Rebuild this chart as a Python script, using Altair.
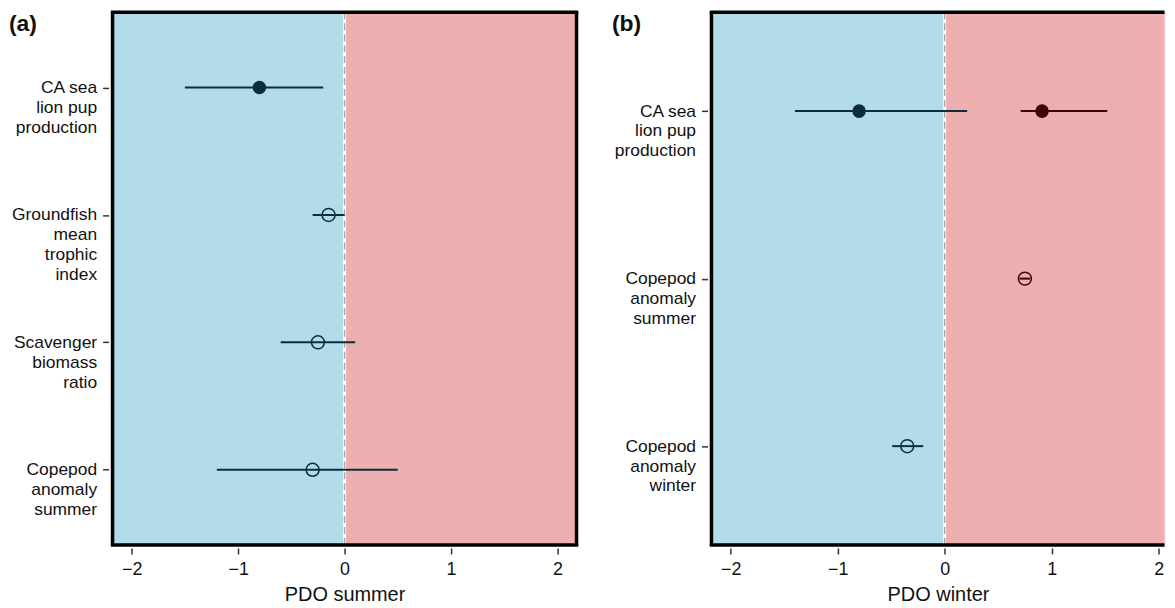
import altair as alt
import pandas as pd

# ---------------- data ----------------
cats_a = ["CA sea|lion pup|production", "Groundfish|mean|trophic|index",
          "Scavenger|biomass|ratio", "Copepod|anomaly|summer"]
rows_a = ["CA sea|lion pup|production", "Groundfish|mean|trophic|index",
          "Scavenger|biomass|ratio", "Copepod|anomaly|summer"]
est_a = [-0.80, -0.15, -0.25, -0.30]
lo_a = [-1.50, -0.30, -0.60, -1.20]
hi_a = [-0.20, 0.00, 0.10, 0.50]
filled_a = [True, False, False, False]

cats_b = ["CA sea|lion pup|production", "Copepod|anomaly|summer", "Copepod|anomaly|winter"]
rows_b = ["CA sea|lion pup|production", "CA sea|lion pup|production",
          "Copepod|anomaly|summer", "Copepod|anomaly|winter"]
est_b = [-0.80, 0.91, 0.75, -0.35]
lo_b = [-1.40, 0.71, 0.70, -0.49]
hi_b = [0.21, 1.52, 0.80, -0.20]
filled_b = [True, True, False, False]

xdom_a = [-2.18, 2.18]
xdom_b = [-2.18, 2.055]   # right part of panel (b) runs off the page edge
ticks = [-2, -1, 0, 1, 2]

BLUE_BG = "#b2dcea"
RED_BG = "#edafb0"
NEG_C = "#0b2d3c"
POS_C = "#3d0306"
FONT = "Liberation Sans"
H = 535


def panel(rows, cats, est, lo, hi, filled, xtitle, tag, tag_dx, xdom, W, right_border):
    df = pd.DataFrame({"cat": rows, "est": est, "lo": lo, "hi": hi, "filled": filled})
    df["side"] = ["pos" if v > 0 else "neg" for v in est]
    xs = alt.Scale(domain=xdom, nice=False, zero=False)
    ys = alt.Scale(type="point", domain=cats, padding=0.59)
    col = alt.condition("datum.side == 'pos'", alt.value(POS_C), alt.value(NEG_C))

    xaxis = alt.Axis(values=ticks, format="d", title=xtitle, grid=False, domain=False,
                     tickSize=6, tickWidth=1.5, tickColor="#333",
                     offset=3, labelPadding=7, labelFontSize=18,
                     titleFontSize=20, titleFontWeight="normal",
                     labelFont=FONT, titleFont=FONT, titlePadding=6,
                     labelColor="#111", titleColor="#111")
    bg_neg = alt.Chart(pd.DataFrame({"x": [xdom[0]], "x2": [0]})).mark_rect(color=BLUE_BG).encode(
        x=alt.X("x:Q", scale=xs, axis=xaxis), x2="x2:Q", y=alt.value(0), y2=alt.value(H))
    bg_pos = alt.Chart(pd.DataFrame({"x": [0], "x2": [xdom[1]]})).mark_rect(color=RED_BG).encode(
        x=alt.X("x:Q", scale=xs), x2="x2:Q", y=alt.value(0), y2=alt.value(H))

    zero_df = pd.DataFrame({"x": [0]})
    zero_w = alt.Chart(zero_df).mark_rule(color="white", strokeWidth=3).encode(
        x=alt.X("x:Q", scale=xs), y=alt.value(0), y2=alt.value(H))
    zero_d = alt.Chart(zero_df).mark_rule(color="#a8a8a8", strokeWidth=1.5, strokeDash=[7, 4]).encode(
        x=alt.X("x:Q", scale=xs), y=alt.value(0), y2=alt.value(H))

    err = alt.Chart(df).mark_rule(strokeWidth=2).encode(
        x=alt.X("lo:Q", scale=xs),
        x2="hi:Q",
        y=alt.Y("cat:N", scale=ys, sort=cats,
                axis=alt.Axis(title=None, domain=False, grid=False, tickSize=6, tickWidth=1.5,
                              tickColor="#333", offset=4, labelPadding=6, labelFontSize=17.5,
                              labelFont=FONT, labelColor="#111", labelLineHeight=20,
                              labelExpr="split(datum.label, '|')")),
        color=col,
    )
    pts_f = alt.Chart(df[df["filled"]]).mark_point(shape="circle", filled=True, size=185, opacity=1).encode(
        x=alt.X("est:Q", scale=xs), y=alt.Y("cat:N", scale=ys, sort=cats), color=col)
    pts_o = alt.Chart(df[~df["filled"]]).mark_point(shape="circle", filled=False, size=170,
                                                   strokeWidth=1.5, opacity=1).encode(
        x=alt.X("est:Q", scale=xs), y=alt.Y("cat:N", scale=ys, sort=cats), color=col)

    one = pd.DataFrame({"k": [0]})
    bw = 3.5
    xend = W + bw / 2 if right_border else W
    border = [
        alt.Chart(one).mark_rule(color="black", strokeWidth=bw).encode(
            x=alt.value(-bw / 2), x2=alt.value(xend), y=alt.value(0)),
        alt.Chart(one).mark_rule(color="black", strokeWidth=bw).encode(
            x=alt.value(-bw / 2), x2=alt.value(xend), y=alt.value(H)),
        alt.Chart(one).mark_rule(color="black", strokeWidth=bw).encode(
            x=alt.value(0), y=alt.value(0), y2=alt.value(H)),
    ]
    if right_border:
        border.append(alt.Chart(one).mark_rule(color="black", strokeWidth=bw).encode(
            x=alt.value(W), y=alt.value(0), y2=alt.value(H)))
    lab = alt.Chart(pd.DataFrame({"t": [tag]})).mark_text(
        align="left", baseline="top", fontSize=23, fontWeight="bold", font=FONT, color="#111"
    ).encode(x=alt.value(tag_dx), y=alt.value(1), text="t:N")

    return alt.layer(bg_neg, bg_pos, zero_w, zero_d, err, pts_f, pts_o, *border, lab).properties(
        width=W, height=H)


pa = panel(rows_a, cats_a, est_a, lo_a, hi_a, filled_a, "PDO summer", "(a)", -104, xdom_a, 466, True)
pb = panel(rows_b, cats_b, est_b, lo_b, hi_b, filled_b, "PDO winter", "(b)", -100, xdom_b, 455, False)

chart = alt.hconcat(pa, pb, spacing=30.5).properties(
    padding={"left": 0, "top": 0, "right": 0, "bottom": 0}
).configure_view(stroke=None).configure(background="white")

chart.save("out.html", embed_options={"renderer": "svg", "actions": False})
